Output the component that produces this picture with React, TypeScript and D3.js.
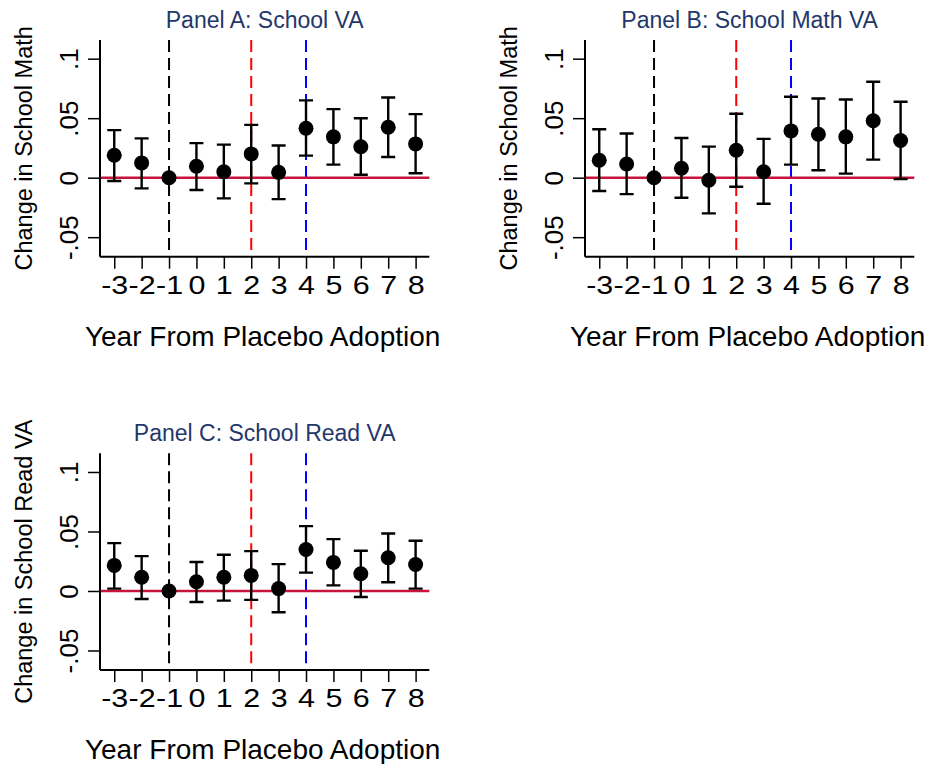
import React, { useEffect, useRef } from 'react';
import * as d3 from 'd3';

const years = [-3, -2, -1, 0, 1, 2, 3, 4, 5, 6, 7, 8];
const yTicks = [-0.05, 0, 0.05, 0.1];
const yTickLabels = ['-.05', '0', '.05', '.1'];
const refYears = [-1, 2, 4];
const refColors = ['#000000', '#ff0000', '#0000ff'];

// Panel A: School VA
const estA = [0.0188, 0.0124, 0, 0.0096, 0.005, 0.02, 0.0045, 0.0416, 0.0343, 0.026, 0.0424, 0.0284];
const lowA = [-0.0028, -0.009, null, -0.0104, -0.0174, -0.0048, -0.018, 0.0185, 0.011, 0.0025, 0.0174, 0.0037];
const highA = [0.04, 0.033, null, 0.029, 0.0278, 0.0444, 0.027, 0.065, 0.0576, 0.05, 0.0674, 0.0534];

// Panel B: School Math VA
const estB = [0.0146, 0.0115, 0, 0.0079, -0.0022, 0.023, 0.005, 0.0393, 0.0365, 0.0343, 0.0478, 0.0312];
const lowB = [-0.0112, -0.0138, null, -0.0169, -0.03, -0.0076, -0.0219, 0.011, 0.0062, 0.0034, 0.0152, -0.0011];
const highB = [0.0407, 0.0371, null, 0.0334, 0.0261, 0.0537, 0.0326, 0.068, 0.0666, 0.0657, 0.0806, 0.0638];

// Panel C: School Read VA
const estC = [0.0215, 0.0115, 0, 0.0078, 0.0115, 0.0131, 0.002, 0.0349, 0.024, 0.0145, 0.0279, 0.0223];
const lowC = [0.002, -0.0067, null, -0.0092, -0.0081, -0.0075, -0.0179, 0.0154, 0.0047, -0.005, 0.0073, 0.002];
const highC = [0.0402, 0.0293, null, 0.0243, 0.0304, 0.0335, 0.0226, 0.0545, 0.0436, 0.0338, 0.0483, 0.0422];

const panels = [
  { title: 'Panel A: School VA', yLabel: 'Change in School Math', est: estA, low: lowA, high: highA, dx: 0, dy: 0 },
  { title: 'Panel B: School Math VA', yLabel: 'Change in School Math', est: estB, low: lowB, high: highB, dx: 485, dy: 0 },
  { title: 'Panel C: School Read VA', yLabel: 'Change in School Read VA', est: estC, low: lowC, high: highC, dx: 0, dy: 413.3 },
];

const FONT = '"Liberation Sans", Arial, Helvetica, sans-serif';

const App = () => {
  const ref = useRef<SVGSVGElement>(null);

  useEffect(() => {
    const svg = d3.select(ref.current);
    svg.selectAll('*').remove();

    const left = 100, right = 429.3, top = 40, bottom = 256.7;

    const x = d3.scaleLinear().domain([-3.52, 8.5]).range([left, right]);
    const y = d3.scaleLinear().domain([-0.0664, 0.1157]).range([bottom, top]);

    panels.forEach(p => {
      const g = svg.append('g').attr('transform', `translate(${p.dx},${p.dy})`);

      // title
      g.append('text')
        .attr('x', (left + right) / 2)
        .attr('y', 28)
        .attr('text-anchor', 'middle')
        .attr('font-size', 23)
        .attr('fill', '#24376b')
        .text(p.title);

      // reference year lines
      refYears.forEach((yr, i) => {
        g.append('line')
          .attr('x1', x(yr)).attr('x2', x(yr))
          .attr('y1', top).attr('y2', bottom)
          .attr('stroke', refColors[i])
          .attr('stroke-width', 2)
          .attr('stroke-dasharray', '12,6');
      });

      // zero line
      g.append('line')
        .attr('x1', left).attr('x2', right)
        .attr('y1', y(0)).attr('y2', y(0))
        .attr('stroke', '#c8143c')
        .attr('stroke-width', 2.5);

      // Y axis
      const yAxis = g.append('g')
        .attr('transform', `translate(${left},0)`)
        .call(d3.axisLeft(y).tickValues(yTicks).tickSize(12).tickSizeOuter(0)
          .tickFormat((_, i) => yTickLabels[i]));
      yAxis.select('.domain').attr('stroke-width', 2).attr('d', `M0,${top}V${bottom}`);
      yAxis.selectAll('.tick line').attr('stroke-width', 1.5);
      yAxis.selectAll('.tick text')
        .attr('x', null).attr('dy', null)
        .attr('text-anchor', 'middle')
        .attr('transform', 'translate(-22,0) rotate(-90)')
        .attr('font-size', 26)
        .attr('font-family', FONT)
        .attr('fill', '#000');

      // X axis
      const xAxis = g.append('g')
        .attr('transform', `translate(0,${bottom})`)
        .call(d3.axisBottom(x).tickValues(years).tickSize(12).tickSizeOuter(0)
          .tickFormat(d => String(d)));
      xAxis.select('.domain').attr('stroke-width', 2).attr('d', `M${left},0H${right}`);
      xAxis.selectAll('.tick line').attr('stroke-width', 1.5);
      xAxis.selectAll('.tick text')
        .attr('y', 37).attr('dy', null)
        .attr('transform', 'scale(1.15,1)')
        .attr('font-size', 26.5)
        .attr('font-family', FONT)
        .attr('fill', '#000');

      // axis titles
      g.append('text')
        .attr('transform', `translate(32,${(top + bottom) / 2}) rotate(-90)`)
        .attr('text-anchor', 'middle')
        .attr('font-size', 23.5)
        .text(p.yLabel);

      g.append('text')
        .attr('x', (left + right) / 2 - 2)
        .attr('y', 346)
        .attr('text-anchor', 'middle')
        .attr('font-size', 28)
        .text('Year From Placebo Adoption');

      // error bars
      const cap = 7;
      years.forEach((yr, i) => {
        const lo = p.low[i], hi = p.high[i];
        if (lo == null || hi == null) return;
        const cx = x(yr);
        const path = d3.path();
        path.moveTo(cx, y(lo)); path.lineTo(cx, y(hi));
        path.moveTo(cx - cap, y(lo)); path.lineTo(cx + cap, y(lo));
        path.moveTo(cx - cap, y(hi)); path.lineTo(cx + cap, y(hi));
        g.append('path')
          .attr('d', path.toString())
          .attr('stroke', '#000')
          .attr('stroke-width', 2.4)
          .attr('fill', 'none');
      });

      // points
      g.selectAll('.pt')
        .data(years)
        .enter()
        .append('circle')
        .attr('class', 'pt')
        .attr('cx', d => x(d))
        .attr('cy', (_, i) => y(p.est[i]))
        .attr('r', 7.5)
        .attr('fill', '#000');
    });
  }, []);

  return (
    <svg
      ref={ref}
      width={940}
      height={764}
      style={{ position: 'absolute', left: 0, top: 0, background: '#fff', fontFamily: FONT }}
    />
  );
};

export default App;
